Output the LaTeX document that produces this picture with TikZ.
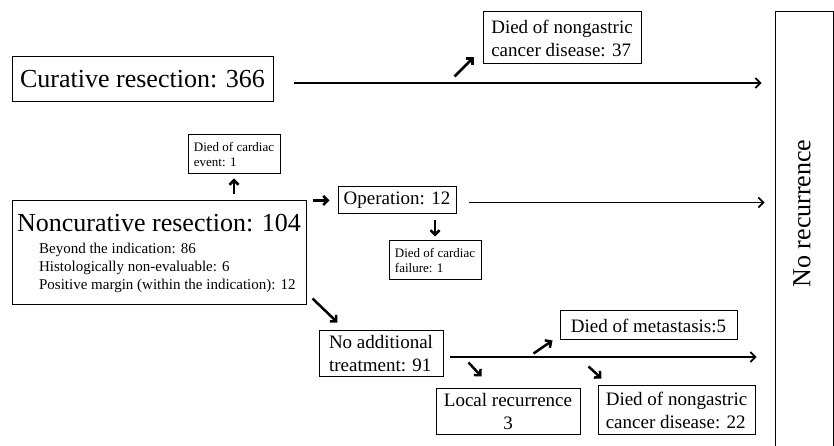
\documentclass[tikz,border=0pt]{standalone}
\usepackage{fontspec}
\setmainfont{Liberation Serif}
\usetikzlibrary{arrows.meta}
\newcommand{\bigfnt}{\fontsize{26}{30}\selectfont}
\tikzset{
    box/.style={draw, line width=1pt, inner sep=0pt, align=left, font=\fontsize{19}{23}\selectfont},
    smallbox/.style={box, font=\fontsize{13}{15}\selectfont},
    flow/.style={line width=1.7pt, -{Straight Barb[length=5pt,width=10pt]}},
    tick/.style={line width=2.5pt, -{Straight Barb[length=4.5pt,width=9pt]}}
}
\begin{document}
\begin{tikzpicture}[x=1pt, y=1pt]
    \useasboundingbox (0,0) rectangle (834,446);
    \node[box, minimum width=261pt, minimum height=45pt, font=\bigfnt] (cur) at (142.5,366.5) {Curative resection: 366};
    \node[box, minimum width=158pt, minimum height=52pt] (dead37) at (562,408) {Died of nongastric\\cancer disease: 37};
    \node[box, minimum width=58pt, minimum height=448pt] (norec) at (804,210) {};
    \node[rotate=90, font=\bigfnt] (norectext) at (802,232.5) {No recurrence};
    \node[smallbox, minimum width=92pt, minimum height=39pt] (cardev) at (234,291.5) {Died of cardiac\\event: 1};
    \node[box, minimum width=294pt, minimum height=104pt, font=\fontsize{15}{18}\selectfont] (noncur) at (159,193)
        {{\bigfnt Noncurative resection: 104}\\[4pt]
         \hspace*{22pt}Beyond the indication: 86\\
         \hspace*{22pt}Histologically non-evaluable: 6\\
         \hspace*{22pt}Positive margin (within the indication): 12};
    \node[box, minimum width=118pt, minimum height=27pt] (op) at (397,245.5) {Operation: 12};
    \node[smallbox, minimum width=92pt, minimum height=39pt] (cardfail) at (435,185.5) {Died of cardiac\\failure: 1};
    \node[box, minimum width=124pt, minimum height=46pt] (noadd) at (381,92) {No additional\\treatment: 91};
    \node[box, minimum width=177pt, minimum height=29pt] (meta) at (648.5,120.5) {Died of metastasis:5};
    \node[box, minimum width=144pt, minimum height=46pt, align=center] (localrec) at (508,34) {Local recurrence\\3};
    \node[box, minimum width=157pt, minimum height=49pt] (dead22) at (676.5,35.5) {Died of nongastric\\cancer disease: 22};

    \draw[flow, shorten <=20pt, shorten >=13pt] ([yshift=-3.5pt]cur.east) -- ([yshift=-3.5pt]norec.west |- cur.east);
    \draw[tick] ([shift={(-28pt,-12pt)}]dead37.south west) -- ([shift={(-9pt,7pt)}]dead37.south west);
    \draw[tick, shorten <=6pt, shorten >=4pt] (cardev.south |- noncur.north) -- (cardev.south);
    \draw[tick, shorten <=6pt, shorten >=8pt] (op.west -| noncur.east) -- (op.west);
    \draw[flow, shorten <=12pt, shorten >=10pt] ([yshift=-2pt]op.east) -- ([yshift=-2pt]norec.west |- op.east);
    \draw[tick, shorten <=6pt, shorten >=4pt] (cardfail.north |- op.south) -- (cardfail.north);
    \draw[tick] ([shift={(6pt,7pt)}]noncur.south east) -- ([shift={(19pt,8pt)}]noadd.north west);
    \draw[flow, shorten <=6pt, shorten >=18pt] ([yshift=-3pt]noadd.east) -- ([yshift=-3pt]norec.west |- noadd.east);
    \draw[tick] ([shift={(-26pt,-13pt)}]meta.south west) -- ([xshift=-7pt]meta.south west);
    \draw[tick] ([shift={(33pt,26pt)}]localrec.north west) -- ([shift={(46pt,12pt)}]localrec.north west);
    \draw[tick] ([shift={(-9pt,19pt)}]dead22.north west) -- ([shift={(4pt,7pt)}]dead22.north west);
\end{tikzpicture}
\end{document}
